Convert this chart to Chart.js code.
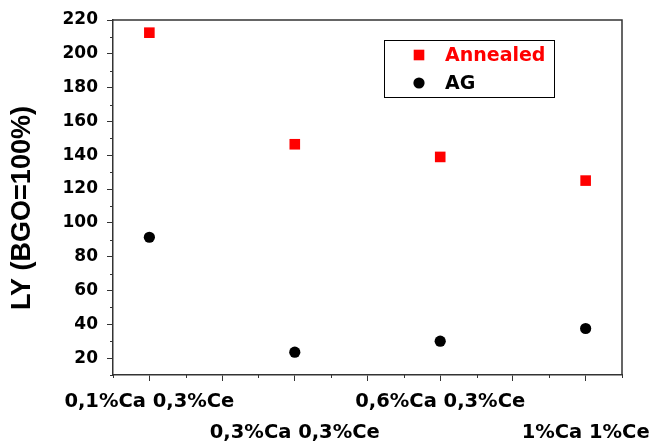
<!DOCTYPE html>
<html>
<head>
<meta charset="utf-8">
<script src="https://cdn.jsdelivr.net/npm/chart.js@4/dist/chart.umd.min.js"></script>
<style>
  html, body { margin: 0; padding: 0; background: #fff; }
</style>
</head>
<body>
<canvas id="lyChart" width="654" height="442"></canvas>
<script>
// categories (sample compositions)
const categories = ['0,1%Ca 0,3%Ce', '0,3%Ca 0,3%Ce', '0,6%Ca 0,3%Ce', '1%Ca 1%Ce'];

// light yield values
const annealed = [212.5, 146.5, 139, 125];
const asGrown = [91.5, 23.5, 30, 37.5];

const seriesNames = ['Annealed', 'AG'];
const yTitle = 'LY (BGO=100%)';

const axisColor = '#333';
const tickFont = { family: 'DejaVu Sans', weight: 'bold', size: 17 };

const toPoints = vals => vals.map((v, i) => ({ x: i + 1, y: v }));

// minor ticks, top/right frame and the boxed legend
const extras = {
    id: 'extras',
    afterDraw(chart) {
        const { ctx, chartArea: a, scales: { x, y } } = chart;
        ctx.save();
        ctx.strokeStyle = axisColor;
        ctx.lineWidth = 1;
        ctx.beginPath();
        x.ticks.forEach(t => {
            if (t.value % 0.5 !== 0) {
                const px = Math.round(x.getPixelForValue(t.value)) + 0.5;
                ctx.moveTo(px, a.bottom);
                ctx.lineTo(px, a.bottom + 3);
            }
        });
        y.ticks.forEach(t => {
            if (t.value % 20 !== 0) {
                const py = Math.round(y.getPixelForValue(t.value)) + 0.5;
                ctx.moveTo(a.left, py);
                ctx.lineTo(a.left - 3, py);
            }
        });
        ctx.stroke();

        // frame top + right
        ctx.lineWidth = 1.5;
        ctx.beginPath();
        ctx.moveTo(a.left, a.top);
        ctx.lineTo(a.right, a.top);
        ctx.lineTo(a.right, a.bottom);
        ctx.stroke();

        // legend
        const bx = a.left + 271, by = a.top + 20, bw = 170, bh = 57;
        ctx.strokeStyle = '#000';
        ctx.lineWidth = 1;
        ctx.strokeRect(bx + 0.5, by + 0.5, bw, bh);
        ctx.font = 'bold 19px "DejaVu Sans"';
        ctx.textBaseline = 'middle';
        chart.data.datasets.forEach((ds, i) => {
            const cy = by + 15 + i * 28;
            const cx = bx + 35;
            ctx.fillStyle = ds.backgroundColor;
            if (ds.pointStyle === 'rect') {
                const s = ds.pointRadius * Math.SQRT1_2;
                ctx.fillRect(cx - s, cy - s, 2 * s, 2 * s);
            } else {
                ctx.beginPath();
                ctx.arc(cx, cy, ds.pointRadius, 0, Math.PI * 2);
                ctx.fill();
            }
            ctx.fillStyle = ds.labelColor;
            ctx.fillText(ds.label, bx + 61, cy + 1);
        });
        ctx.restore();
    }
};

new Chart(document.getElementById('lyChart').getContext('2d'), {
    type: 'scatter',
    data: {
        datasets: [
            {
                label: seriesNames[0],
                data: toPoints(annealed),
                pointStyle: 'rect',
                pointRadius: 7.5,
                borderWidth: 0,
                backgroundColor: '#ff0000',
                labelColor: '#ff0000'
            },
            {
                label: seriesNames[1],
                data: toPoints(asGrown),
                pointStyle: 'circle',
                pointRadius: 5.6,
                borderWidth: 0,
                backgroundColor: '#000000',
                labelColor: '#000000'
            }
        ]
    },
    options: {
        responsive: false,
        animation: false,
        layout: { padding: { top: 20, right: 32, left: 0, bottom: 0 } },
        plugins: {
            legend: { display: false },
            tooltip: { enabled: false }
        },
        scales: {
            x: {
                type: 'linear',
                min: 0.75,
                max: 4.25,
                afterFit: s => { s.height = 67; },
                border: { color: axisColor, width: 1.5 },
                grid: {
                    drawOnChartArea: false,
                    tickLength: 6,
                    tickColor: c => (c.tick && c.tick.value % 0.5 === 0 ? axisColor : 'rgba(0,0,0,0)')
                },
                ticks: {
                    stepSize: 0.25,
                    maxTicksLimit: 100,
                    autoSkip: false,
                    maxRotation: 0,
                    minRotation: 0,
                    padding: 5,
                    color: '#000',
                    font: { family: 'DejaVu Sans', weight: 'bold', size: 19.5, lineHeight: 1.6 },
                    callback: v => {
                        if (!Number.isInteger(v)) return '';
                        const label = categories[v - 1];
                        return v % 2 === 0 ? ['', label] : label;
                    }
                }
            },
            y: {
                min: 10,
                max: 220,
                afterFit: s => { s.width = 113; },
                border: { color: axisColor, width: 1.5 },
                grid: {
                    drawOnChartArea: false,
                    tickLength: 6,
                    tickColor: c => (c.tick && c.tick.value % 20 === 0 ? axisColor : 'rgba(0,0,0,0)')
                },
                ticks: {
                    stepSize: 10,
                    maxTicksLimit: 100,
                    autoSkip: false,
                    padding: 9,
                    color: '#000',
                    font: tickFont,
                    callback: v => (v % 20 === 0 ? v : '')
                },
                title: {
                    display: true,
                    text: yTitle + '\u2002 ',
                    color: '#000',
                    padding: { top: 6, bottom: 0 },
                    font: { family: 'Liberation Sans', weight: 'bold', size: 27, lineHeight: 1.2 }
                }
            }
        }
    },
    plugins: [extras]
});
</script>
</body>
</html>
